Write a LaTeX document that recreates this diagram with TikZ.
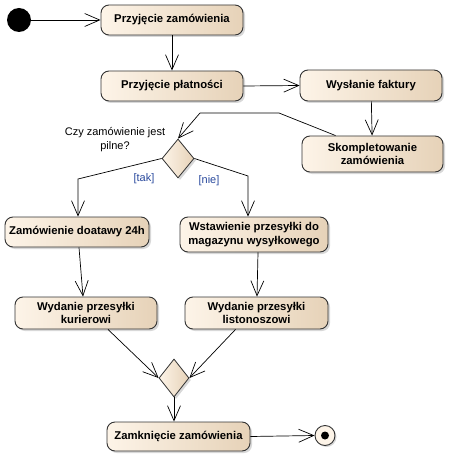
\documentclass[tikz,border=0pt]{standalone}
\usepackage{fontspec}
\setmainfont{Liberation Sans}
\usetikzlibrary{shapes.geometric,arrows.meta,shadows,calc}
\definecolor{cL}{HTML}{FDF4E8}
\definecolor{cR}{HTML}{E6D2B8}
\definecolor{bord}{HTML}{333333}
\definecolor{guard}{HTML}{2A4A9E}
\begin{document}
\begin{tikzpicture}[x=1pt,y=-1pt,
  act/.style={draw=bord,line width=0.9pt,rounded corners=8pt,left color=cL,right color=cR,
    drop shadow={shadow xshift=2pt,shadow yshift=-2pt,opacity=0.3},
    font=\fontsize{11.3}{13.5}\selectfont\bfseries,align=center,inner sep=1pt},
  dec/.style={diamond,draw=bord,line width=0.8pt,left color=cL,right color=cR,inner sep=0pt,
    drop shadow={shadow xshift=2pt,shadow yshift=-2pt,opacity=0.3}},
  flow/.style={draw=black,line width=0.7pt,-{Straight Barb[length=15pt,width=13pt]}},
  lbl/.style={font=\fontsize{11}{14}\selectfont,align=center,inner sep=0pt}]
\useasboundingbox (0,0) rectangle (452,457);
\fill[white] (0,0) rectangle (452,457);
% nodes
\node[circle,fill=black,minimum size=24pt,inner sep=0pt] (start) at (19,20) {};
\node[act,minimum width=142pt,minimum height=30pt] (n1) at (172,20) {Przyjęcie zamówienia};
\node[act,minimum width=142pt,minimum height=30pt] (n2) at (172,86) {Przyjęcie płatności};
\node[act,minimum width=142pt,minimum height=31pt] (n3) at (371,85.5) {Wysłanie faktury};
\node[act,minimum width=141pt,minimum height=36pt] (n4) at (372.5,154) {Skompletowanie\\zamówienia};
\node[dec,minimum width=32pt,minimum height=39pt] (d1) at (178,158.5) {};
\node[act,minimum width=144pt,minimum height=30pt] (n5) at (77,232) {Zamówienie doatawy 24h};
\node[act,minimum width=148pt,minimum height=35pt] (n6) at (254,234.5) {Wstawienie przesyłki do\\magazynu wysyłkowego};
\node[act,minimum width=142pt,minimum height=32pt] (n7) at (86,313) {Wydanie przesyłki\\kurierowi};
\node[act,minimum width=143pt,minimum height=32pt] (n8) at (256.5,313) {Wydanie przesyłki\\listonoszowi};
\node[dec,minimum width=30pt,minimum height=38pt] (d2) at (174,378) {};
\node[act,minimum width=143pt,minimum height=29pt] (n9) at (178.5,436.5) {Zamknięcie zamówienia};
\node[circle,draw=bord,line width=0.9pt,fill=cL,minimum size=20pt,inner sep=0pt,
  drop shadow={shadow xshift=1.5pt,shadow yshift=-1.5pt,opacity=0.3}] (end) at (325,435.5) {};
\node[circle,fill=black,minimum size=8pt,inner sep=0pt] (endin) at (end.center) {};
% labels
\node[lbl] (q) at (115,140) {Czy zamówienie jest\\pilne?};
\node[lbl,text=guard] (tak) at (144,179) {[tak]};
\node[lbl,text=guard] (nie) at (209,181) {[nie]};
% coordinates
\coordinate (k1) at (279,113);
\coordinate (k2) at (200,113);
\coordinate (k3) at (78,179);
\coordinate (k4) at (248,176);
% connectors
\draw[flow] (start) -- (n1);
\draw[flow] (n1) -- (n2);
\draw[flow] (n2.east) -- (n3.west);
\draw[flow] (n3) -- (n4);
\draw[flow] ([xshift=-37pt]n4.north) -- (k1) -- (k2) -- (d1.north);
\draw[flow] (d1.west) -- (k3) -- (k3 |- n5.north);
\draw[flow] (d1.east) -- (k4) -- (k4 |- n6.north);
\draw[flow] ([xshift=2pt]n5.south) -- ([xshift=-3pt]n7.north);
\draw[flow] ([xshift=4pt]n6.south) -- ([xshift=0.5pt]n8.north);
\draw[flow] ([xshift=22pt]n7.south) -- (d2.west);
\draw[flow] ([xshift=-21pt]n8.south) -- (d2.east);
\draw[flow] (d2.south) -- (d2.south |- n9.north);
\draw[flow] (n9.east) -- (end.west);
\end{tikzpicture}
\end{document}
